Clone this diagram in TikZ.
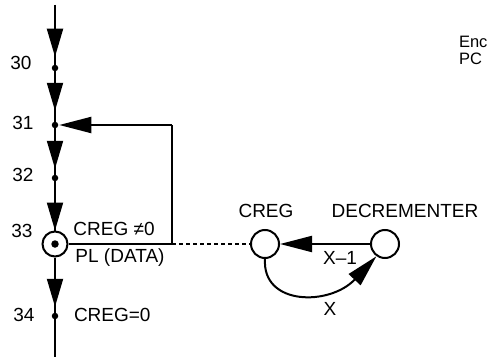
\documentclass[tikz,border=0pt]{standalone}
\usepackage{fontspec}
\setmainfont{Liberation Sans}
\usepackage{tikz}
\usetikzlibrary{arrows.meta}

\begin{document}
\begin{tikzpicture}[x=1pt,y=-1pt,line width=2pt,
   lbl/.style={font=\fontsize{19}{21}\selectfont, inner sep=0pt},
   dot/.style={circle, fill=black, inner sep=0pt, minimum size=6.5pt},
   reg/.style={circle, draw, line width=2pt, inner sep=0pt, minimum size=28pt},
   flow/.style={-{Triangle[length=28pt,width=16pt]}, shorten >=7pt},
   back/.style={-{Triangle[length=32pt,width=16pt]}}]
   \useasboundingbox (0,0) rectangle (487,361);

   % program states
   \coordinate (top) at (55,5);
   \coordinate (bot) at (55,357);
   \node[dot] (s30) at (55,68) {};
   \node[dot] (s31) at (55,125) {};
   \node[dot] (s32) at (55,178) {};
   \node[circle, draw, line width=2pt, inner sep=0pt, minimum size=25pt, fill=white] (s33) at (55,244) {};
   \node[dot, minimum size=7.5pt] (s33c) at (s33) {};
   \node[dot] (s34) at (55,316) {};

   \node[lbl] (n30) at (21,63) {30};
   \node[lbl] (n31) at (23,123) {31};
   \node[lbl] (n32) at (23,175) {32};
   \node[lbl] (n33) at (22,231) {33};
   \node[lbl] (n34) at (24,315) {34};

   \draw (top) -- (s33) -- (bot);
   \draw[flow] (top) -- (s30);
   \draw[flow, shorten >=10pt] (s30) -- (s31);
   \draw[flow, shorten >=5pt] (s31) -- (s32);
   \draw[flow, shorten >=0pt] (s32) -- (s33);
   \draw[flow, shorten >=5pt] (s33) -- (s34);

   % loop back while CREG not zero
   \coordinate (c1) at (172,244);
   \coordinate (c2) at (172,125);
   \draw (s33) -- (c1) -- (c2);
   \draw[back] (c2) -- (s31);
   \node[lbl] (ne) at (114,229) {CREG ≠0};
   \node[lbl] (pl) at (120,258) {PL (DATA)};
   \node[lbl, anchor=west] (eq) at (73,315) {CREG=0};

   % counter register and decrementer
   \node[reg] (creg) at (265,244) {};
   \node[reg] (dec) at (385,244) {};
   \node[lbl] (cregl) at (266,211) {CREG};
   \node[lbl] (decl) at (405,211) {DECREMENTER};
   \draw[dashed, line width=1.5pt, dash pattern=on 4pt off 3pt] (c1) -- (creg);
   \draw[back] (dec) -- (creg);
   \node[lbl] (xm1) at (340,258) {X–1};
   \draw[back] (creg.south) .. controls (262,306) and (330,306) .. (dec.235);
   \node[lbl] (x) at (330,309) {X};

   \node[anchor=base west, font=\fontsize{16.5}{18}\selectfont, inner sep=0pt] (enc) at (458,48) {Enc};
   \node[anchor=base west, font=\fontsize{16.5}{18}\selectfont, inner sep=0pt] (pc) at (458,64) {PC};
\end{tikzpicture}
\end{document}
